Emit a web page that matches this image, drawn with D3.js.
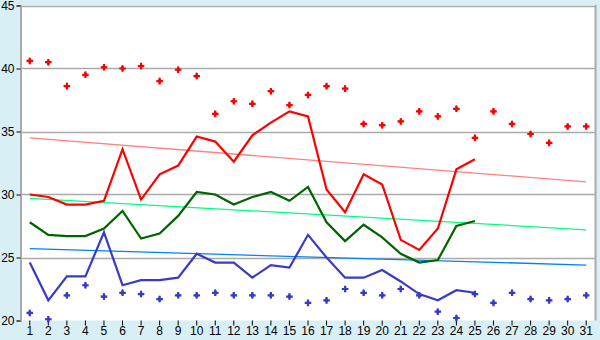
<!DOCTYPE html>
<html>
<head>
<meta charset="utf-8">
<script src="https://cdn.jsdelivr.net/npm/d3@7"></script>
<style>
    body { margin: 0; background: #d9eff6; }
    svg { display: block; font-family: "DejaVu Sans", Verdana, sans-serif; }
    .tick text { font-size: 12px; fill: #000; }
</style>
</head>
<body>
<svg id="chart" width="600" height="340"></svg>
<script>
// days of the month
const days = d3.range(1, 32);

// red daily maximum points
const maxPoints = [40.6, 40.5, 38.6, 39.5, 40.1, 40.0, 40.2, 39.0, 39.9, 39.4,
    36.4, 37.4, 37.2, 38.2, 37.1, 37.9, 38.6, 38.4, 35.6, 35.5,
    35.8, 36.6, 36.2, 36.8, 34.5, 36.6, 35.6, 34.8, 34.1, 35.4, 35.4];

// blue daily minimum points
const minPoints = [20.6, 20.1, 22.0, 22.8, 21.9, 22.2, 22.1, 21.7, 22.0, 22.0,
    22.2, 22.0, 22.0, 22.0, 21.9, 21.4, 21.6, 22.5, 22.2, 22.0,
    22.5, 22.0, 20.7, 20.2, 22.1, 21.4, 22.2, 21.7, 21.6, 21.7, 22.0];

// lines, only up to day 25
const highLine = [30.0, 29.8, 29.2, 29.2, 29.5, 33.6, 29.6, 31.6, 32.3, 34.6,
    34.2, 32.6, 34.7, 35.7, 36.6, 36.2, 30.4, 28.6, 31.6, 30.8,
    26.4, 25.6, 27.3, 32.0, 32.8];
const meanLine = [27.8, 26.8, 26.7, 26.7, 27.3, 28.7, 26.5, 26.9, 28.3, 30.2,
    30.0, 29.2, 29.8, 30.2, 29.5, 30.6, 27.8, 26.3, 27.6, 26.6,
    25.3, 24.6, 24.8, 27.5, 27.9];
const lowLine = [24.6, 21.6, 23.5, 23.5, 27.0, 22.8, 23.2, 23.2, 23.4, 25.3,
    24.6, 24.6, 23.4, 24.4, 24.2, 26.8, 25.0, 23.4, 23.4, 24.0,
    23.1, 22.1, 21.6, 22.4, 22.2];

// trend lines, value on day 1 and day 31
const highTrend = [34.5, 31.0];
const meanTrend = [29.7, 27.2];
const lowTrend = [25.7, 24.4];

const yTicks = [20, 25, 30, 35, 40, 45];

const svg = d3.select("#chart");
const margins = {left: 20.5, right: 4.5, top: 5.5, bottom: 19.5};
const width = 600, height = 340;

const x = d3.scaleBand()
    .domain(days)
    .range([margins.left, width - margins.right]);
const xc = d => x(d) + x.bandwidth() / 2;
const y = d3.scaleLinear()
    .domain([20, 45])
    .range([height - margins.bottom, margins.top]);

// plot area
svg.append("rect")
    .attr("x", margins.left)
    .attr("y", margins.top)
    .attr("width", width - margins.left - margins.right)
    .attr("height", height - margins.top - margins.bottom)
    .attr("fill", "#fff");

// gridlines
svg.append("g")
    .selectAll("line")
    .data(yTicks.slice(1))
    .enter()
    .append("line")
    .attr("x1", margins.left)
    .attr("x2", width - margins.right)
    .attr("y1", d => Math.round(y(d)) + 0.5)
    .attr("y2", d => Math.round(y(d)) + 0.5)
    .attr("stroke", "#aaa")
    .attr("stroke-width", 1.5);

// right border
svg.append("line")
    .attr("x1", width - margins.right)
    .attr("x2", width - margins.right)
    .attr("y1", margins.top - 0.5)
    .attr("y2", height - margins.bottom)
    .attr("stroke", "#aaa")
    .attr("stroke-width", 2);

// axes
const xAxis = d3.axisBottom(x).tickSize(5).tickPadding(1);
const yAxis = d3.axisLeft(y).tickValues(yTicks).tickSize(4).tickPadding(2);

svg.append("g")
    .attr("transform", `translate(0,${height - margins.bottom})`)
    .call(xAxis)
    .call(g => g.select(".domain").remove())
    .call(g => g.selectAll(".tick line").attr("stroke", "#000"));

svg.append("g")
    .attr("transform", `translate(${margins.left},0)`)
    .call(yAxis)
    .call(g => g.select(".domain").attr("stroke", "#aaa").attr("stroke-width", 2))
    .call(g => g.selectAll(".tick line").attr("stroke", "#000"));

// trend lines
const trends = [
    {v: highTrend, color: "#ff8080"},
    {v: meanTrend, color: "#00ff80"},
    {v: lowTrend, color: "#0080ff"}
];
svg.append("g")
    .selectAll("line")
    .data(trends)
    .enter()
    .append("line")
    .attr("x1", xc(days[0]))
    .attr("x2", xc(days[days.length - 1]))
    .attr("y1", d => y(d.v[0]))
    .attr("y2", d => y(d.v[1]))
    .attr("stroke", d => d.color)
    .attr("stroke-width", 1.3);

// data lines
const line = d3.line()
    .x((d, i) => xc(days[i]))
    .y(d => y(d));

[[highLine, "#ff0000"], [meanLine, "#006400"], [lowLine, "#3a3ac8"]].forEach(([values, color]) => {
    svg.append("path")
        .attr("d", line(values))
        .attr("fill", "none")
        .attr("stroke", color)
        .attr("stroke-width", 2.2);
});

// point markers: a small cross over a small diamond
const cross = d3.symbol().type(d3.symbolCross).size(24);
const diamond = d3.symbol().type(d3.symbolDiamond).size(14);

[[maxPoints, "#ff0000"], [minPoints, "#3a3ac8"]].forEach(([values, color]) => {
    const g = svg.append("g")
        .selectAll("g")
        .data(values)
        .enter()
        .append("g")
        .attr("transform", (d, i) => `translate(${xc(days[i])},${y(d)})`)
        .attr("fill", color);
    g.append("path").attr("d", cross);
    g.append("path").attr("d", diamond);
});
</script>
</body>
</html>
